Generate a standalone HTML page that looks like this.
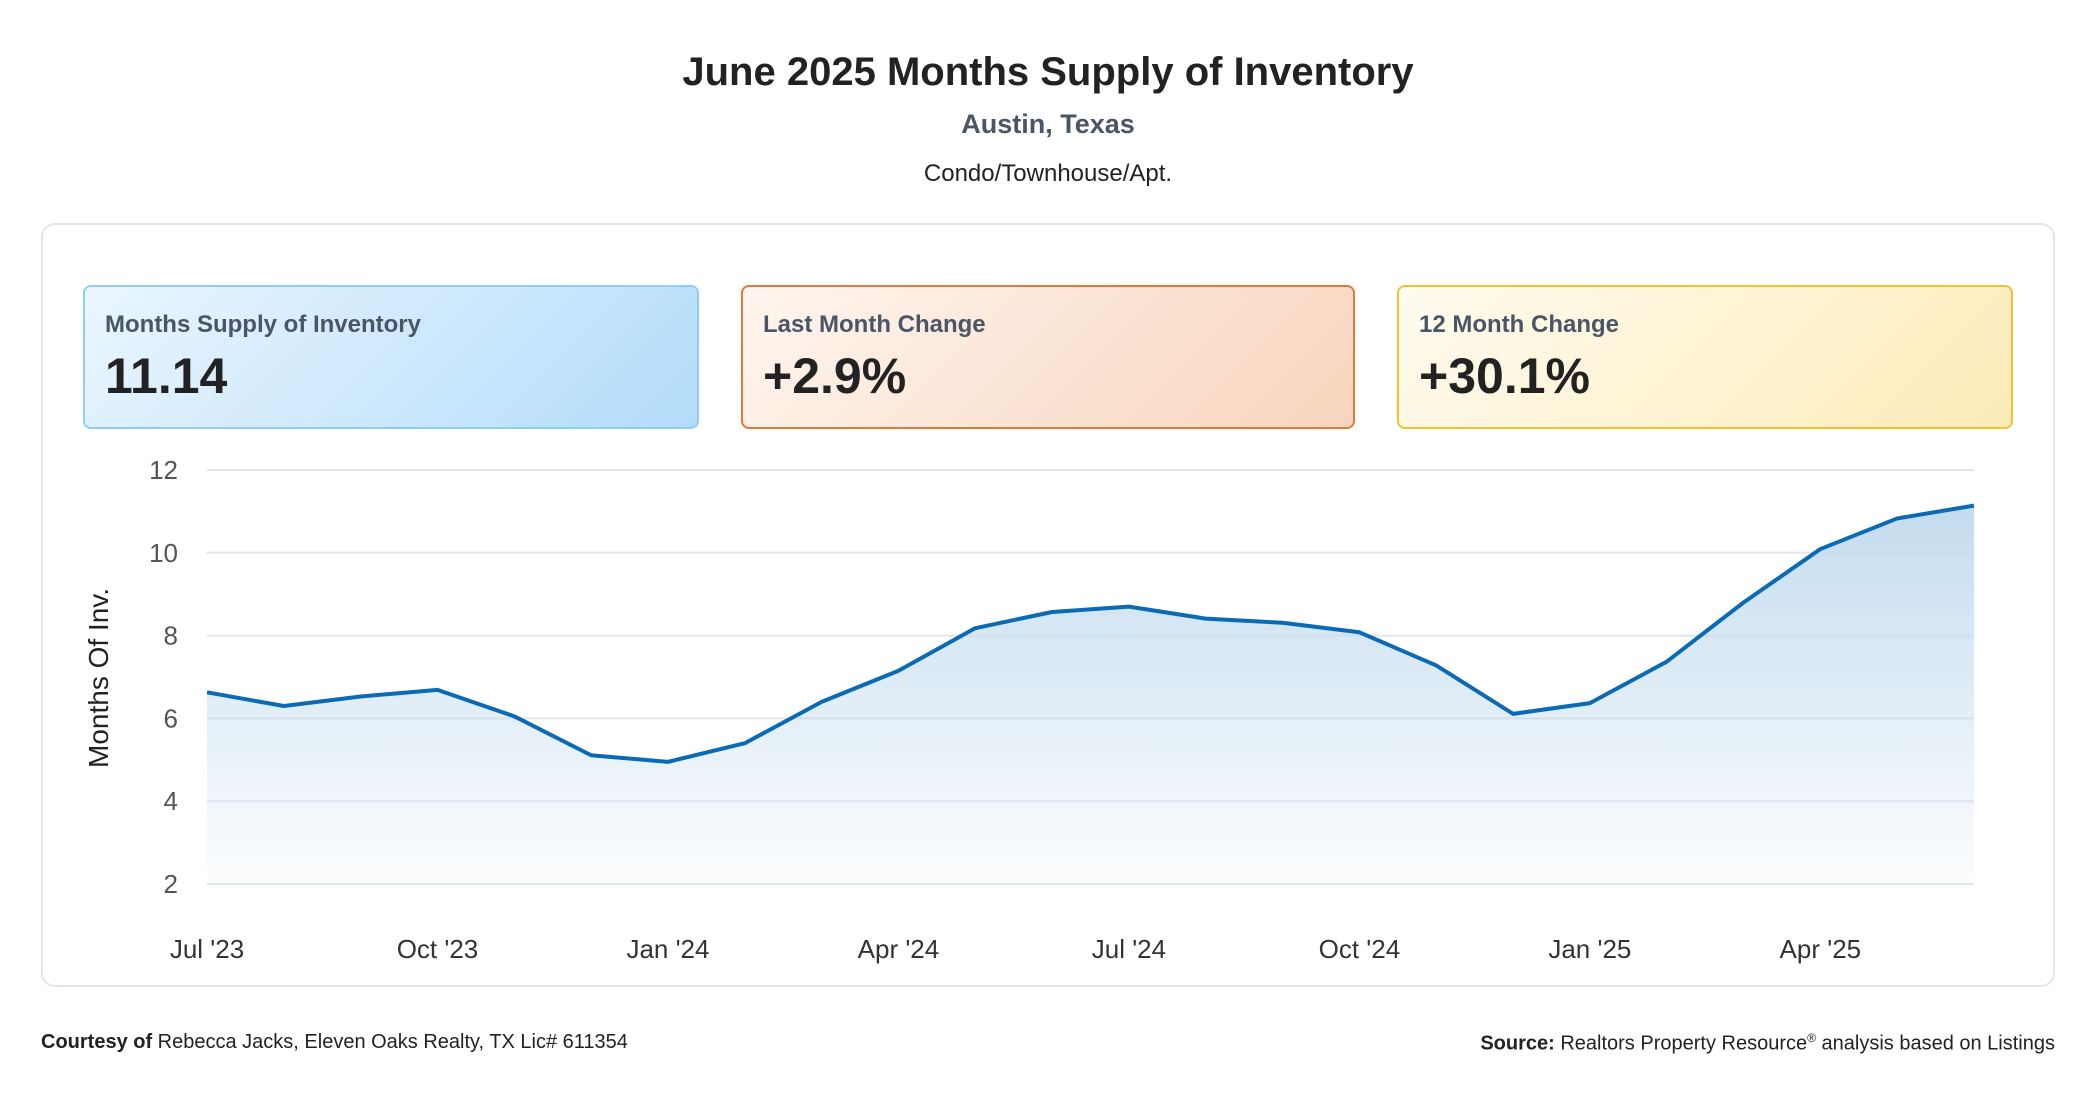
<!DOCTYPE html>
<html><head><meta charset="utf-8">
<style>
*{margin:0;padding:0;box-sizing:border-box}
body{width:2096px;height:1100px;background:#fff;font-family:"Liberation Sans",sans-serif;position:relative;overflow:hidden;color:#222}
.t{position:absolute;left:0;width:2096px;text-align:center}
.card{position:absolute;left:41px;top:223px;width:2014px;height:764px;border:2px solid #dfe6ee;border-radius:14px}
.kpi{position:absolute;top:285px;height:144px;border-radius:8px;border:2px solid}
.kpi .l{position:absolute;left:20px;top:24px;font-size:24px;font-weight:bold;color:#4a5568}
.kpi .v{position:absolute;left:20px;top:60px;font-size:50px;font-weight:bold;color:#222}
.foot{position:absolute;top:1031px;font-size:20px;color:#222}
</style></head><body>
<div class="t" style="top:50px;font-size:40px;font-weight:bold">June 2025 Months Supply of Inventory</div>
<div class="t" style="top:109px;font-size:27px;font-weight:bold;color:#4a5568">Austin, Texas</div>
<div class="t" style="top:160px;font-size:24px">Condo/Townhouse/Apt.</div>
<div class="card"></div>
<div class="kpi" style="left:83px;width:616px;border-color:#90cdf4;background:linear-gradient(135deg,#ebf6ff,#b3dcfa)"><div class="l">Months Supply of Inventory</div><div class="v">11.14</div></div>
<div class="kpi" style="left:741px;width:614px;border-color:#e07b39;background:linear-gradient(135deg,#fff6ef,#f7d4bd)"><div class="l">Last Month Change</div><div class="v">+2.9%</div></div>
<div class="kpi" style="left:1397px;width:616px;border-color:#f2c230;background:linear-gradient(135deg,#fffbef,#fdebb8)"><div class="l">12 Month Change</div><div class="v">+30.1%</div></div>
<svg id="chart" width="2096" height="1100" style="position:absolute;left:0;top:0">
<defs><linearGradient id="fill" x1="0" y1="0" x2="0" y2="1"><stop offset="0" stop-color="#c4dcef"/><stop offset="1" stop-color="#c4dcef" stop-opacity="0.05"/></linearGradient></defs>
<text transform="translate(108,678) rotate(-90)" text-anchor="middle" font-size="28" fill="#222" font-family="Liberation Sans,sans-serif">Months Of Inv.</text>
</svg>
<div class="foot" style="left:41px"><b>Courtesy of</b> Rebecca Jacks, Eleven Oaks Realty, TX Lic# 611354</div>
<div class="foot" style="right:41px"><b>Source:</b> Realtors Property Resource<sup style="font-size:12px">®</sup> analysis based on Listings</div>
<script>
const months=["Jul '23","Aug '23","Sep '23","Oct '23","Nov '23","Dec '23","Jan '24","Feb '24","Mar '24","Apr '24","May '24","Jun '24","Jul '24","Aug '24","Sep '24","Oct '24","Nov '24","Dec '24","Jan '25","Feb '25","Mar '25","Apr '25","May '25","Jun '25"];
const values=[6.63,6.30,6.53,6.69,6.05,5.11,4.95,5.40,6.40,7.15,8.18,8.57,8.70,8.41,8.31,8.08,7.28,6.11,6.37,7.37,8.80,10.09,10.83,11.14];
const yTicks=[2,4,6,8,10,12];
const xTickIdx=[0,3,6,9,12,15,18,21];
const svg=document.getElementById('chart');const NS='http://www.w3.org/2000/svg';
const X0=207,X1=1974,Y0=884,Y1=470,VMIN=2,VMAX=12;
const x=i=>X0+(X1-X0)*i/(months.length-1);
const y=v=>Y0-(Y0-Y1)*(v-VMIN)/(VMAX-VMIN);
function mk(t,a){const e=document.createElementNS(NS,t);for(const k in a)e.setAttribute(k,a[k]);svg.appendChild(e);return e;}
yTicks.forEach(v=>{
 const g=mk('line',{x1:X0,x2:X1,y1:y(v),y2:y(v),stroke:'#e2e6ea','stroke-width':2});
 
 
 const t=mk('text',{x:178,y:y(v)+9,'text-anchor':'end','font-size':26,fill:'#555','font-family':'Liberation Sans,sans-serif'});
 t.textContent=v;
 
 
});
xTickIdx.forEach(i=>{
 const t=mk('text',{x:x(i),y:958,'text-anchor':'middle','font-size':26,fill:'#333','font-family':'Liberation Sans,sans-serif'});
 t.textContent=months[i];
 
 
});
let d=values.map((v,i)=>(i?'L':'M')+x(i)+','+y(v)).join(' ');
const area=mk('path',{d:d+' L'+x(values.length-1)+','+Y0+' L'+X0+','+Y0+' Z',fill:'url(#fill)'});


const line=mk('path',{d:d,fill:'none',stroke:'#0a6ab5','stroke-width':4,'stroke-linejoin':'round'});


</script>
</body></html>
